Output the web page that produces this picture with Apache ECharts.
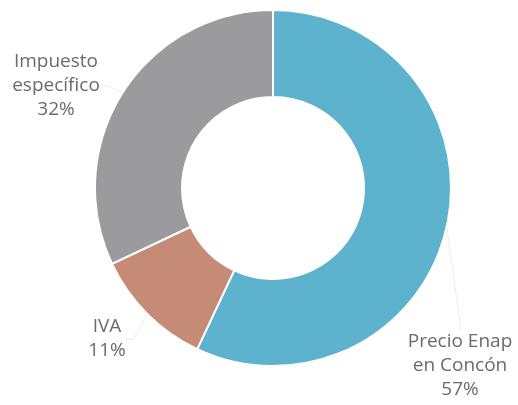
<!DOCTYPE html>
<html lang="es">
<head>
    <meta charset="UTF-8">
    <title>Precio combustible</title>
    <style>
        html, body { margin: 0; padding: 0; background: #fff; }
        #chart { width: 518px; height: 405px; }
    </style>
</head>
<body>
<div id="chart"></div>
<script src="https://cdn.jsdelivr.net/npm/echarts@6/dist/echarts.min.js"></script>
<script>
    var names = ['Precio Enap\nen Concón', 'IVA', 'Impuesto\nespecífico'];
    var values = [57, 11, 32];
    var colors = ['#5db2cd', '#c58b77', '#9b9b9d'];
    // donde va cada etiqueta (centro del texto)
    var labelPos = [[460, 366], [107, 339], [56, 86]];

    var mChart = echarts.init(document.getElementById('chart'));

    var pieData = names.map(function (n, i) {
        return { name: n, value: values[i], itemStyle: { color: colors[i] } };
    });

    var option = {
        animation: false,
        series: [{
            type: 'pie',
            center: [273, 188],
            radius: [91, 178],
            startAngle: 90,
            clockwise: true,
            data: pieData,
            itemStyle: {
                borderColor: '#fff',
                borderWidth: 2
            },
            label: {
                show: true,
                position: 'outside',
                formatter: function (p) {
                    return p.name + '\n' + p.value + '%';
                },
                fontFamily: 'Open Sans',
                fontSize: 19,
                lineHeight: 24,
                color: '#6b6b6b',
                align: 'center',
                overflow: 'none'
            },
            labelLine: {
                show: true,
                length: 8,
                length2: 8,
                lineStyle: { color: '#ececec', width: 1 }
            },
            labelLayout: function (p) {
                var pos = labelPos[p.dataIndex];
                return { x: pos[0], y: pos[1], align: 'center', verticalAlign: 'middle' };
            }
        }]
    };

    mChart.setOption(option);
</script>
</body>
</html>
